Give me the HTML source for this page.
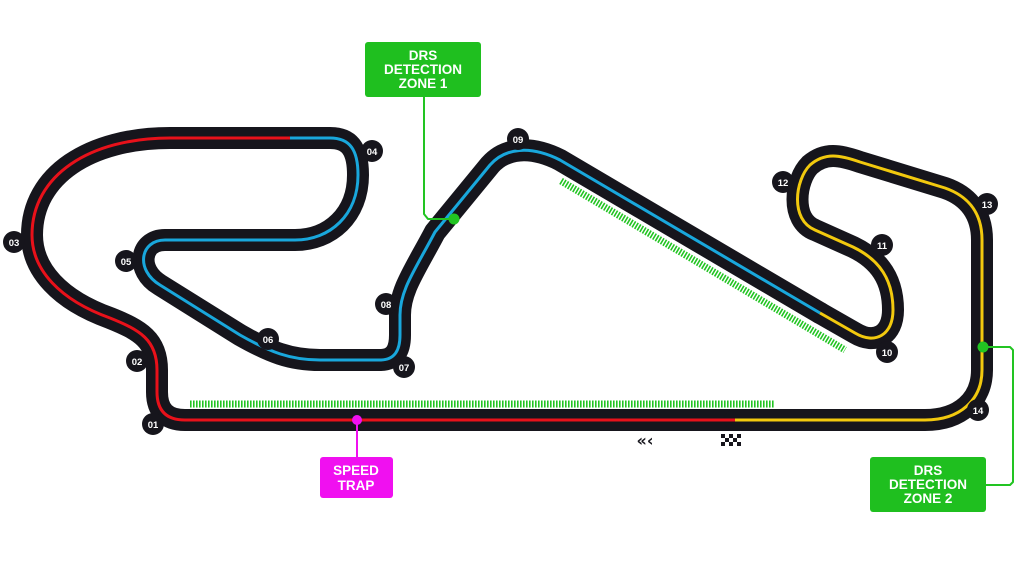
<!DOCTYPE html>
<html><head><meta charset="utf-8"><style>
html,body{margin:0;padding:0;background:#fff;}
svg{display:block;}
.lbl{font-family:"Liberation Sans",sans-serif;font-weight:bold;font-size:9.5px;fill:#fff;text-anchor:middle;}
.box{font-family:"Liberation Sans",sans-serif;font-weight:bold;font-size:13.5px;fill:#fff;text-anchor:middle;}
</style></head><body>
<svg width="1023" height="576" viewBox="0 0 1023 576" xmlns="http://www.w3.org/2000/svg">
<g fill="none" stroke-linecap="round" stroke-linejoin="round">
<!-- green dashed DRS zones -->
<line x1="190" y1="404" x2="775" y2="404" stroke="#22c422" stroke-width="7" stroke-dasharray="1.6 1.4" stroke-linecap="butt"/>
<line x1="561" y1="181" x2="845" y2="350" stroke="#22c422" stroke-width="7" stroke-dasharray="1.6 1.4" stroke-linecap="butt"/>
<!-- black track -->
<g stroke="#16151c" stroke-width="22">
<path id="pa" d="M735,420 L185,420 Q157,420 157,392 L157,370 C157,340 140,330 110,318 C60,300 32,270 32,235 C32,175 90,138 170,138 L290,138"/>
<path id="pb" d="M290,138 L330,138 C350,138 358,150 358,175 C358,215 330,240 295,240 L165,240 C140,240 135,270 160,285 L240,335 C270,352 290,360 320,360 L380,360 C395,360 400,350 400,335 L400,315 C400,290 415,270 435,232 L490,165 C505,148 530,145 560,160 L820,313"/>
<path id="pc" d="M820,313 L855,333 C875,345 893,335 893,310 C893,280 880,260 853,247 L815,230 C790,220 795,180 810,165 C825,152 840,155 860,162 L945,188 C965,195 982,210 982,240 L982,370 C982,400 960,420 925,420 L735,420"/>
</g>
<path d="M735,420 L185,420 Q157,420 157,392 L157,370 C157,340 140,330 110,318 C60,300 32,270 32,235 C32,175 90,138 170,138 L290,138" stroke="#e8111a" stroke-width="3" stroke-linecap="butt"/>
<path d="M290,138 L330,138 C350,138 358,150 358,175 C358,215 330,240 295,240 L165,240 C140,240 135,270 160,285 L240,335 C270,352 290,360 320,360 L380,360 C395,360 400,350 400,335 L400,315 C400,290 415,270 435,232 L490,165 C505,148 530,145 560,160 L820,313" stroke="#19a7dc" stroke-width="3" stroke-linecap="butt"/>
<path d="M820,313 L855,333 C875,345 893,335 893,310 C893,280 880,260 853,247 L815,230 C790,220 795,180 810,165 C825,152 840,155 860,162 L945,188 C965,195 982,210 982,240 L982,370 C982,400 960,420 925,420 L735,420" stroke="#f2c90e" stroke-width="3" stroke-linecap="butt"/>
<!-- connectors -->
<polyline points="424,97 424,214 428,219 454,219" stroke="#22c422" stroke-width="2"/>
<polyline points="983,347 1010,347 1013,350 1013,482 1010,485 985,485" stroke="#22c422" stroke-width="2"/>
<line x1="357" y1="420" x2="357" y2="458" stroke="#f010f0" stroke-width="2"/>
</g>
<circle cx="454" cy="219" r="5.5" fill="#22c422"/>
<circle cx="983" cy="347" r="5.5" fill="#22c422"/>
<circle cx="357" cy="420" r="5" fill="#f010f0"/>
<!-- boxes -->
<rect x="365" y="42" width="116" height="55" rx="3" fill="#1fbf1f"/>
<text class="box" x="423" y="60">DRS</text>
<text class="box" x="423" y="74">DETECTION</text>
<text class="box" x="423" y="88">ZONE 1</text>
<rect x="870" y="457" width="116" height="55" rx="3" fill="#1fbf1f"/>
<text class="box" x="928" y="475">DRS</text>
<text class="box" x="928" y="489">DETECTION</text>
<text class="box" x="928" y="503">ZONE 2</text>
<rect x="320" y="457" width="73" height="41" rx="3" fill="#f010f0"/>
<text class="box" x="356" y="475">SPEED</text>
<text class="box" x="356" y="490">TRAP</text>
<!-- chevrons and flag -->
<text x="645" y="446" font-family="DejaVu Sans,sans-serif" font-size="16" font-weight="bold" fill="#16151c" text-anchor="middle">«‹</text>
<g fill="#16151c">
<rect x="721" y="434" width="4" height="4"/><rect x="729" y="434" width="4" height="4"/><rect x="737" y="434" width="4" height="4"/>
<rect x="725" y="438" width="4" height="4"/><rect x="733" y="438" width="4" height="4"/>
<rect x="721" y="442" width="4" height="4"/><rect x="729" y="442" width="4" height="4"/><rect x="737" y="442" width="4" height="4"/>
</g>
<!-- corner labels -->
<g fill="#16151c">
<circle cx="153" cy="424" r="11"/><circle cx="137" cy="361" r="11"/><circle cx="14" cy="242" r="11"/>
<circle cx="372" cy="151" r="11"/><circle cx="126" cy="261" r="11"/><circle cx="268" cy="339" r="11"/>
<circle cx="404" cy="367" r="11"/><circle cx="386" cy="304" r="11"/><circle cx="518" cy="139" r="11"/>
<circle cx="887" cy="352" r="11"/><circle cx="882" cy="245" r="11"/><circle cx="783" cy="182" r="11"/>
<circle cx="987" cy="204" r="11"/><circle cx="978" cy="410" r="11"/>
</g>
<text class="lbl" x="153" y="428">01</text><text class="lbl" x="137" y="365">02</text><text class="lbl" x="14" y="246">03</text>
<text class="lbl" x="372" y="155">04</text><text class="lbl" x="126" y="265">05</text><text class="lbl" x="268" y="343">06</text>
<text class="lbl" x="404" y="371">07</text><text class="lbl" x="386" y="308">08</text><text class="lbl" x="518" y="143">09</text>
<text class="lbl" x="887" y="356">10</text><text class="lbl" x="882" y="249">11</text><text class="lbl" x="783" y="186">12</text>
<text class="lbl" x="987" y="208">13</text><text class="lbl" x="978" y="414">14</text>
</svg>
</body></html>
